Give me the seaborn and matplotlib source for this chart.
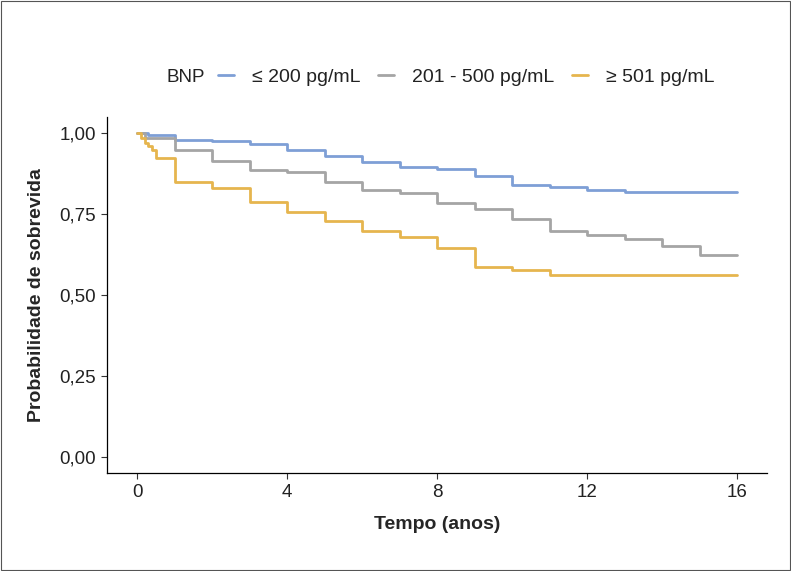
import numpy as np
import pandas as pd
import matplotlib
matplotlib.use("Agg")
import matplotlib.pyplot as plt
import seaborn as sns
from matplotlib.ticker import FuncFormatter
from matplotlib.patches import Rectangle
from matplotlib.lines import Line2D

# ---- data ----
groups = ["\u2264 200 pg/mL", "201 - 500 pg/mL", "\u2265 501 pg/mL"]

times_low = [0, 0.3, 1, 2, 3, 4, 5, 6, 7, 8, 9, 10, 11, 12, 13, 16]
surv_low = [1.0, 0.994, 0.978, 0.975, 0.966, 0.948, 0.929, 0.910, 0.895,
            0.889, 0.867, 0.840, 0.833, 0.824, 0.818, 0.818]

times_mid = [0, 0.2, 1, 2, 3, 4, 5, 6, 7, 8, 9, 10, 11, 12, 13, 14, 15, 16]
surv_mid = [1.0, 0.985, 0.948, 0.914, 0.887, 0.880, 0.849, 0.824, 0.815,
            0.784, 0.765, 0.735, 0.698, 0.685, 0.673, 0.651, 0.623, 0.623]

times_high = [0, 0.1, 0.2, 0.3, 0.4, 0.5, 1, 2, 3, 4, 5, 6, 7, 8, 9, 10, 11, 16]
surv_high = [1.0, 0.985, 0.970, 0.960, 0.948, 0.923, 0.849, 0.830, 0.787,
             0.756, 0.728, 0.698, 0.679, 0.645, 0.586, 0.577, 0.562, 0.562]

x_ticks = [0, 4, 8, 12, 16]
y_ticks = [0.0, 0.25, 0.50, 0.75, 1.0]

colors = ["#7E9FD6", "#A5A5A5", "#E6B54E"]

df = pd.concat([
    pd.DataFrame({"tempo": times_low, "surv": surv_low, "grupo": groups[0]}),
    pd.DataFrame({"tempo": times_mid, "surv": surv_mid, "grupo": groups[1]}),
    pd.DataFrame({"tempo": times_high, "surv": surv_high, "grupo": groups[2]}),
], ignore_index=True)

sns.set_theme(style="white")
plt.rcParams["font.family"] = ["Liberation Sans", "DejaVu Sans"]

fig = plt.figure(figsize=(7.91, 5.71), dpi=100)
ax = fig.add_axes([0.1353, 0.1716, 0.8344, 0.6235])

sns.lineplot(data=df, x="tempo", y="surv", hue="grupo", hue_order=groups,
             palette=colors, drawstyle="steps-post", estimator=None,
             linewidth=2.0, ax=ax, legend=False)

ax.set_xlim(-0.8, 16.8)
ax.set_ylim(-0.05, 1.05)
ax.set_xticks(x_ticks)
ax.set_yticks(y_ticks)
ax.yaxis.set_major_formatter(FuncFormatter(lambda v, p: f"{v:.2f}".replace(".", ",")))
ax.tick_params(axis="both", which="both", direction="out", length=4, width=0.8,
               color="#333333", labelsize=13.5, labelcolor="#222222",
               bottom=True, left=True, pad=4)
for s in ["top", "right"]:
    ax.spines[s].set_visible(False)
for s in ["left", "bottom"]:
    ax.spines[s].set_color("black")
    ax.spines[s].set_linewidth(0.9)

ax.set_xlabel("Tempo (anos)", fontsize=14, fontweight="bold", labelpad=11)
ax.set_ylabel("Probabilidade de sobrevida", fontsize=14, fontweight="bold", labelpad=10)

# legend
handles = [Line2D([0], [0], color=c, lw=2.0) for c in colors]
fig.text(166 / 791, 1 - 77 / 571, "BNP", fontsize=13.5, va="center", ha="left", color="#222222")
leg = fig.legend(handles, groups, loc="center", bbox_to_anchor=(466 / 791, 1 - 77 / 571),
                 ncol=3, frameon=False, fontsize=14, handlelength=0.85,
                 handletextpad=0.9, columnspacing=0.9, borderpad=0)
for t in leg.get_texts():
    t.set_color("#222222")

fig.patches.append(Rectangle((0.0015, 0.002), 0.997, 0.996, transform=fig.transFigure,
                             fill=False, edgecolor="#555555", linewidth=0.8))

fig.savefig("out.png", dpi=100)
